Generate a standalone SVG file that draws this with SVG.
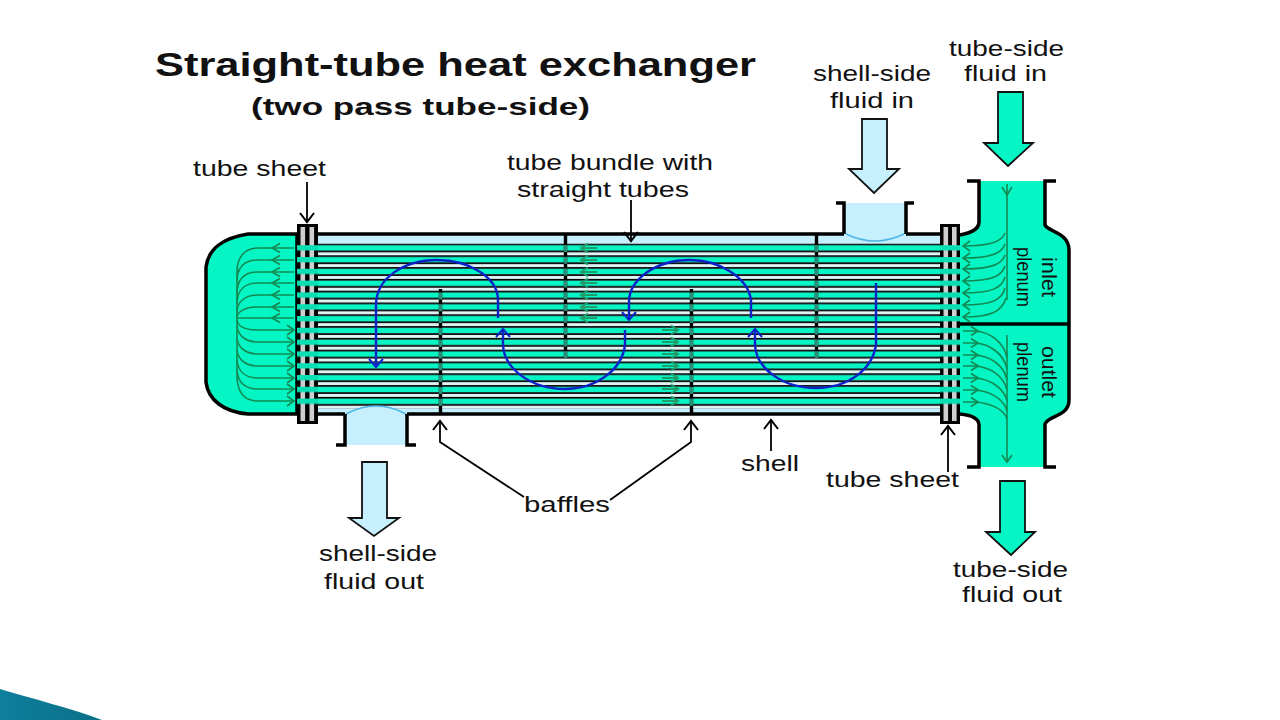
<svg xmlns="http://www.w3.org/2000/svg" width="1280" height="720" viewBox="0 0 1280 720">
<style>
text{font-family:"Liberation Sans",Arial,sans-serif;fill:#111;font-size:22px}
.title{font-weight:bold}
.wall{fill:none;stroke:#000;stroke-width:3.5}
.flow{fill:none;stroke:#128a52;stroke-width:1.6}
.thick{fill:none;stroke:#1f9e6c;stroke-width:2}
.fine{fill:none;stroke:#128a52;stroke-width:1.6;marker-end:url(#gh)}
.blue{fill:none;stroke:#0a22c8;stroke-width:2.4;marker-end:url(#bh)}
.ptra{fill:none;stroke:#000;stroke-width:1.8;marker-end:url(#kh)}
.baf{stroke:#000;stroke-width:3.4}
.bafo{stroke:#2b8f78;stroke-width:3.4;stroke-dasharray:7 4.8}
.big{stroke:#111;stroke-width:1.8}
.rot{font-size:21px}
</style>
<defs>
<marker id="gh" markerUnits="userSpaceOnUse" markerWidth="14" markerHeight="14" refX="10" refY="7" orient="auto"><path d="M3 2 L10 7 L3 12" fill="none" stroke="#128a52" stroke-width="1.6"/></marker>
<marker id="bh" markerUnits="userSpaceOnUse" markerWidth="20" markerHeight="20" refX="14" refY="10" orient="auto"><path d="M6 3 L14 10 L6 17" fill="none" stroke="#0a22c8" stroke-width="2"/></marker>
<marker id="kh" markerUnits="userSpaceOnUse" markerWidth="20" markerHeight="20" refX="15" refY="10" orient="auto"><path d="M6 3 L15 10 L6 17" fill="none" stroke="#000" stroke-width="2"/></marker>
<pattern id="tubes" patternUnits="userSpaceOnUse" x="0" y="243.5" width="20" height="11.8">
<rect width="20" height="11.8" fill="#dff3f5"/>
<rect y="0" width="20" height="1.8" fill="#000"/><rect y="1.8" width="20" height="5.3" fill="#06f5c4"/><rect y="7.1" width="20" height="1.7" fill="#000"/>
</pattern>
<pattern id="sheetrows" patternUnits="userSpaceOnUse" x="0" y="245.2" width="20" height="11.8">
<rect y="0" width="20" height="5.3" fill="#08e0b4"/>
</pattern>
<linearGradient id="wedge" x1="0" y1="0" x2="1" y2="0"><stop offset="0" stop-color="#0d7f9c"/><stop offset="1" stop-color="#0b6f88"/></linearGradient>
</defs>
<path id="corner-wedge" d="M0 689 C30 698 70 708 102 720 L0 720Z" fill="url(#wedge)"/>
<g id="title">
<text class="title" x="155" y="76" style="font-size:33px" textLength="601" lengthAdjust="spacingAndGlyphs">Straight-tube heat exchanger</text>
<text class="title" x="251" y="115" style="font-size:24px" textLength="339" lengthAdjust="spacingAndGlyphs">(two pass tube-side)</text>
</g>
<g id="left-head">
<path d="M297 234 H248 C222 238 208 250 206 267 V382 C208 400 224 412 248 414 H297Z" class="wall" style="fill:#06f5c4"/>
</g>
<g id="right-plenum">
<path d="M960 235 C970 233 979 230 979 222 V181 H1045 V225 C1048 232 1069 232 1069 250 V400 C1069 417 1048 415 1045 424 V467 H979 V425 C979 418 970 415 960 414Z" fill="#06f5c4"/>
<path class="wall" d="M967 181 H979 V222 C979 230 970 233 960 235"/>
<path class="wall" d="M1056 181 H1045 V225 C1048 232 1069 232 1069 250 V400 C1069 417 1048 415 1045 424 V467 H1056"/>
<path class="wall" d="M967 467 H979 V425 C979 418 970 415 960 414"/>
<path class="wall" d="M960 324 H1069"/>
<text class="rot" transform="translate(1042 277) rotate(90)" text-anchor="middle" textLength="40" lengthAdjust="spacingAndGlyphs">inlet</text>
<text class="rot" transform="translate(1017 277) rotate(90)" text-anchor="middle" textLength="60" lengthAdjust="spacingAndGlyphs">plenum</text>
<text class="rot" transform="translate(1042 372) rotate(90)" text-anchor="middle" textLength="52" lengthAdjust="spacingAndGlyphs">outlet</text>
<text class="rot" transform="translate(1017 372) rotate(90)" text-anchor="middle" textLength="60" lengthAdjust="spacingAndGlyphs">plenum</text>
</g>
<g id="shell">
<rect x="317" y="234" width="624" height="180" fill="#c6f0fd"/>
<rect x="317" y="243.5" width="624" height="165" fill="url(#tubes)"/>
<path class="wall" d="M317 234 H844 M906 234 H941 M317 414 H345 M407 414 H941"/>
</g>
<g id="shell-nozzle-in">
<path d="M845 203 H905 V234 Q875 248 845 234Z" fill="#c6f0fd"/>
<path d="M846 234 Q875 248 904 234" fill="none" stroke="#4fb6e6" stroke-width="1.5"/>
<path class="wall" d="M836 203 H844 V234 M914 203 H906 V234"/>
</g>
<g id="shell-nozzle-out">
<path d="M346 445 H406 V414 Q376 398 346 414Z" fill="#c6f0fd"/>
<path d="M346 414 Q376 398 406 414" fill="none" stroke="#4fb6e6" stroke-width="1.5"/>
<path class="wall" d="M336 445 H345 V414 M416 445 H407 V414"/>
</g>
<g id="tube-sheet-left">
<rect x="297" y="224" width="21" height="200" fill="#000"/>
<rect x="300.500" y="227" width="4.600" height="194" fill="#cfcfcf"/><rect x="309.500" y="227" width="4.600" height="194" fill="#cfcfcf"/>
<rect x="297" y="245" width="21" height="160" fill="url(#sheetrows)"/>
</g>
<g id="tube-sheet-right">
<rect x="940" y="224" width="20" height="200" fill="#000"/>
<rect x="943.500" y="227" width="4.600" height="194" fill="#cfcfcf"/><rect x="952" y="227" width="4.600" height="194" fill="#cfcfcf"/>
<rect x="940" y="245" width="20" height="160" fill="url(#sheetrows)"/>
</g>
<g id="baffles">
<path class="baf" d="M440.500 289V414M565.500 234V358M691.500 289V414M816.500 234V358"/>
<path class="bafo" d="M440.500 292.500V408M565.500 245V358M691.500 292.500V408M816.500 245V358"/>
</g>
<g id="connectors">
<g id="flow-head-left">
<path class="flow" d="M237 272V378"/>
<path class="flow" d="M294 248H258C244 248 237 258 237 272M294 260H258C244 260 237 268 237 282M294 272H258C244 272 237 280 237 294M294 283H258C244 283 237 291 237 304M294 295H258C245 295 237 302 237 312M294 307H258C246 307 237 311 237 318M294 318H237"/>
<path class="flow" d="M280 243.500L272 248L280 252.500M280 255.500L272 260L280 264.500M280 267.500L272 272L280 276.500M280 278.500L272 283L280 287.500M280 290.500L272 295L280 299.500M280 302.500L272 307L280 311.500M280 313.500L272 318L280 322.500"/>
<path class="fine" d="M237 320C238 327 246 330 258 330H294"/>
<path class="fine" d="M237 326C238 336 246 342 258 342H294"/>
<path class="fine" d="M237 338C238 348 246 354 258 354H294"/>
<path class="fine" d="M237 350C238 360 246 366 258 366H294"/>
<path class="fine" d="M237 360C238 372 246 378 258 378H294"/>
<path class="fine" d="M237 370C238 383 246 389 258 389H294"/>
<path class="fine" d="M237 378C238 394 246 401 258 401H294"/>
</g>
<g id="flow-inlet">
<path class="flow" d="M1007 184V300"/>
<path class="flow" d="M1002 187L1007 195L1012 187"/>
<path class="fine" d="M1005 233C1002 241 992 246 963 246"/>
<path class="fine" d="M1005 244C1002 253 992 258 963 258"/>
<path class="fine" d="M1005 255C1002 264 992 269 963 269"/>
<path class="fine" d="M1005 266C1002 276 992 281 963 281"/>
<path class="fine" d="M1005 277C1002 288 992 293 963 293"/>
<path class="fine" d="M1005 288C1002 300 992 305 963 305"/>
<path class="fine" d="M1006 298C1002 312 990 317 963 317"/>
</g>
<g id="flow-outlet">
<path class="fine" d="M1007 335V462"/>
<path class="flow" d="M963 331H975C990 332 1004 342 1007 358M963 343H975C990 344 1004 354 1007 369M963 355H975C990 356 1004 365 1007 380M963 366H975C990 367 1004 376 1007 390M963 378H975C990 379 1004 388 1007 401M963 390H975C990 391 1004 399 1007 411M963 402H975C990 403 1004 409 1007 419"/>
<path class="flow" d="M971 326.500L978 331L971 335.500M971 338.500L978 343L971 347.500M971 350.500L978 355L971 359.500M971 361.500L978 366L971 370.500M971 373.500L978 378L971 382.500M971 385.500L978 390L971 394.500M971 397.500L978 402L971 406.500"/>
</g>
<g id="flow-shell-arrows">
<path class="thick" d="M597 248H581M588 243.500L581 248L588 252.500M597 260H581M588 255.500L581 260L588 264.500M597 272H581M588 267.500L581 272L588 276.500M597 283H581M588 278.500L581 283L588 287.500M597 295H581M588 290.500L581 295L588 299.500M597 307H581M588 302.500L581 307L588 311.500M597 318H581M588 313.500L581 318L588 322.500"/>
<path class="thick" d="M662 330H678M671 325.500L678 330L671 334.500M662 342H678M671 337.500L678 342L671 346.500M662 354H678M671 349.500L678 354L671 358.500M662 366H678M671 361.500L678 366L671 370.500M662 378H678M671 373.500L678 378L671 382.500M662 389H678M671 384.500L678 389L671 393.500M662 401H678M671 396.500L678 401L671 405.500"/>
</g>
<g id="shell-flow">
<path class="blue" d="M498 318V300C498 278 470 260 437 260C404 260 376 278 376 305V367"/>
<path class="blue" d="M625 330V345C622 370 596 389 565 389C530 389 504 368 503 345V329"/>
<path class="blue" d="M751 318V300C748 278 720 260 690 260C655 260 629 280 629 302V320"/>
<path class="blue" d="M876 283V345C872 370 848 388 816 388C782 388 756 368 755 345V329"/>
</g>
<g id="pointers">
<path class="ptra" d="M307 182V222"/>
<path class="ptra" d="M631 200V241"/>
<path class="ptra" d="M771 451V420"/>
<path class="ptra" d="M948 472V426"/>
<path class="ptra" d="M524 497L440 442V421"/>
<path class="ptra" d="M610 500L691 442V421"/>
</g>
</g>
<g id="arrow-shell-in"><path class="big" d="M862 119H887V169H899L874 193L849 169H862Z" fill="#c6f0fd"/></g>
<g id="arrow-shell-out"><path class="big" d="M362 462H387V518H399L374 536L349 518H362Z" fill="#c6f0fd"/></g>
<g id="arrow-tube-in"><path class="big" d="M998 92H1023V143H1033L1008 166L984 143H998Z" fill="#06f5c4"/></g>
<g id="arrow-tube-out"><path class="big" d="M1000 481H1025V532H1035L1011 555L986 532H1000Z" fill="#06f5c4"/></g>
<g id="labels">
<text x="193" y="176" textLength="133" lengthAdjust="spacingAndGlyphs">tube sheet</text>
<text x="507" y="170" textLength="206" lengthAdjust="spacingAndGlyphs">tube bundle with</text>
<text x="517" y="197" textLength="172" lengthAdjust="spacingAndGlyphs">straight tubes</text>
<text x="813" y="81" textLength="118" lengthAdjust="spacingAndGlyphs">shell-side</text>
<text x="830" y="108" textLength="84" lengthAdjust="spacingAndGlyphs">fluid in</text>
<text x="949" y="56" textLength="115" lengthAdjust="spacingAndGlyphs">tube-side</text>
<text x="964" y="81" textLength="83" lengthAdjust="spacingAndGlyphs">fluid in</text>
<text x="741" y="471" textLength="58" lengthAdjust="spacingAndGlyphs">shell</text>
<text x="826" y="487" textLength="133" lengthAdjust="spacingAndGlyphs">tube sheet</text>
<text x="524" y="512" textLength="86" lengthAdjust="spacingAndGlyphs">baffles</text>
<text x="319" y="561" textLength="118" lengthAdjust="spacingAndGlyphs">shell-side</text>
<text x="324" y="589" textLength="100" lengthAdjust="spacingAndGlyphs">fluid out</text>
<text x="953" y="577" textLength="115" lengthAdjust="spacingAndGlyphs">tube-side</text>
<text x="962" y="602" textLength="100" lengthAdjust="spacingAndGlyphs">fluid out</text>
</g>
</svg>
